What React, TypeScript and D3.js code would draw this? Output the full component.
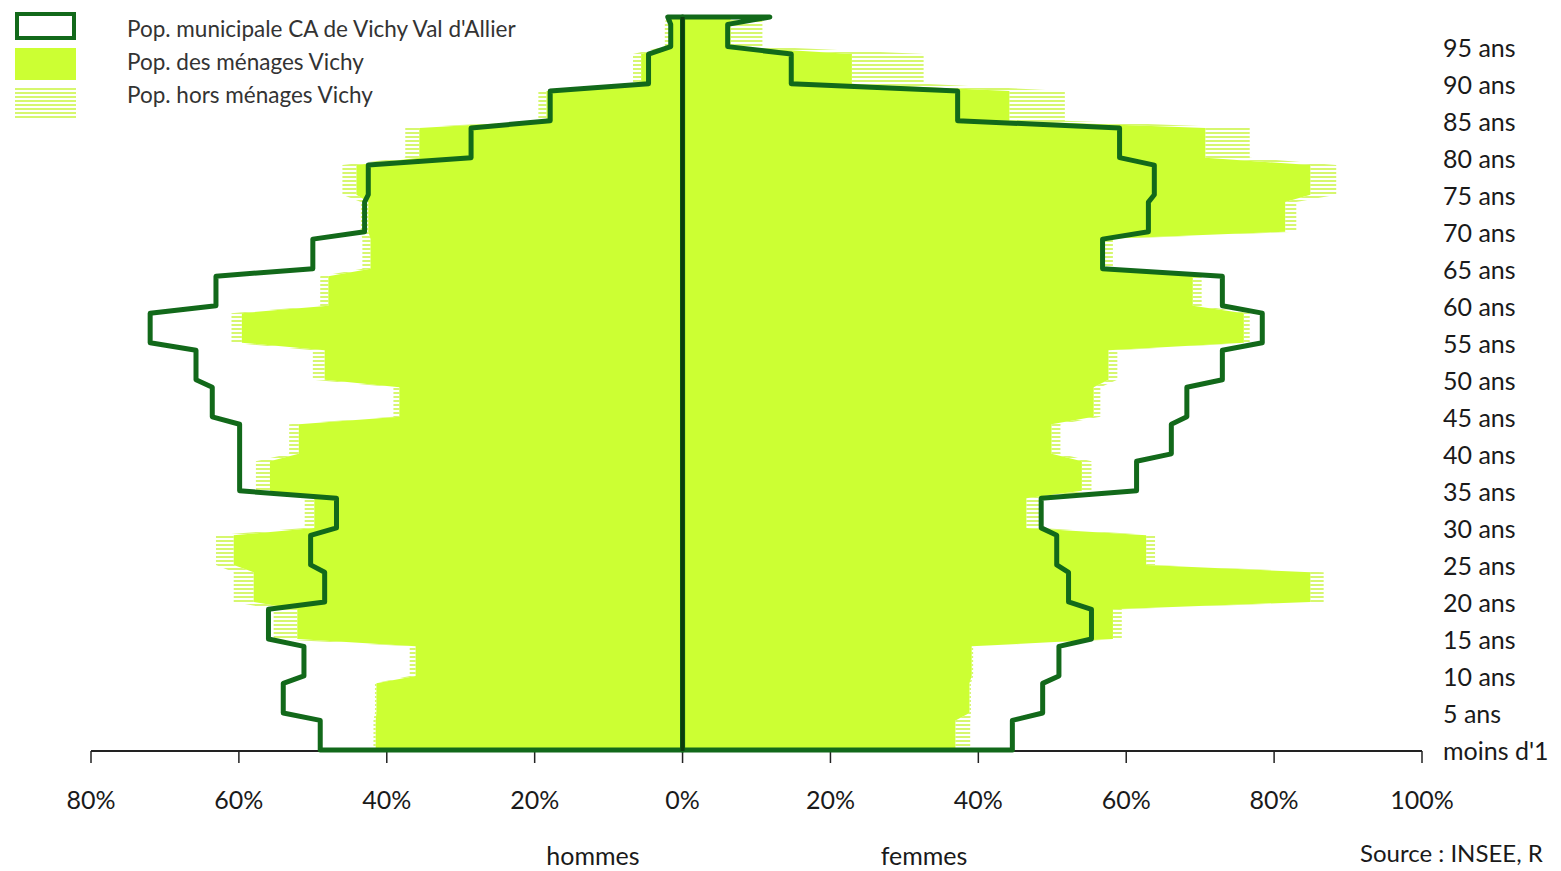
import React from 'react';
import * as d3 from 'd3';

// age groups (start / end age of each step)
const ageStart = [0, 5, 10, 15, 20, 25, 30, 35, 40, 45, 50, 55, 60, 65, 70, 75, 80, 85, 90, 95, 99];
const ageEnd = [4, 9, 14, 19, 24, 29, 34, 39, 44, 49, 54, 59, 64, 69, 74, 79, 84, 89, 94, 98, 99];

// Pop. municipale CA de Vichy Val d'Allier (outline)
const caHommes = [49.0, 54.0, 51.2, 56.0, 48.4, 50.3, 46.8, 59.9, 59.9, 63.6, 65.8, 72.0, 63.1, 50.0, 43.0, 42.5, 28.6, 17.9, 4.6, 1.6, 2.0];
const caFemmes = [44.6, 48.7, 50.9, 55.3, 52.2, 50.6, 48.5, 61.4, 66.1, 68.2, 73.0, 78.4, 73.0, 56.8, 63.0, 63.8, 59.1, 37.2, 14.7, 6.1, 11.8];

// Pop. des ménages Vichy
const menagesHommes = [41.5, 41.4, 36.1, 52.1, 58.0, 60.7, 49.8, 55.8, 51.9, 38.3, 48.4, 59.6, 47.9, 42.2, 42.5, 44.1, 35.6, 18.4, 5.6, 1.6, 1.6];
const menagesFemmes = [36.9, 38.8, 39.1, 58.2, 84.9, 62.7, 46.5, 54.0, 49.9, 55.6, 57.6, 75.9, 69.0, 56.8, 81.5, 84.9, 70.7, 44.2, 22.9, 6.5, 6.5];

// Pop. hors ménages Vichy
const horsHommes = [0.3, 0.2, 0.8, 3.2, 2.7, 2.4, 1.3, 1.9, 1.3, 0.8, 1.6, 1.4, 1.1, 1.1, 1.0, 1.9, 1.9, 1.1, 1.1, 0.8, 0.6];
const horsFemmes = [2.0, 0.2, 0.2, 1.2, 1.8, 1.2, 2.0, 1.3, 1.2, 0.9, 1.2, 0.8, 1.2, 1.4, 1.5, 3.5, 6.0, 7.5, 9.7, 4.3, 4.3];

const xTicks = [-80, -60, -40, -20, 0, 20, 40, 60, 80, 100];
const ageLabels = ['moins d\'1', '5 ans', '10 ans', '15 ans', '20 ans', '25 ans', '30 ans', '35 ans', '40 ans', '45 ans',
  '50 ans', '55 ans', '60 ans', '65 ans', '70 ans', '75 ans', '80 ans', '85 ans', '90 ans', '95 ans'];
const ageLabelAt = [0, 5, 10, 15, 20, 25, 30, 35, 40, 45, 50, 55, 60, 65, 70, 75, 80, 85, 90, 95];

const legendItems = [
  'Pop. municipale CA de Vichy Val d\'Allier',
  'Pop. des ménages Vichy',
  'Pop. hors ménages Vichy'
];

const LIME = '#ccff33';
const HATCH = '#d6f76e';
const DARK = '#12691a';
const FONT = 'Lato, "Open Sans", sans-serif';
const INK = '#1a1a1a';

type Pt = { age: number; v0: number; v1: number };

// step points: value held from start age to end age of each group
const stepPoints = (inner: number[], outer: number[], sign: number): Pt[] => {
  const pts: Pt[] = [];
  ageStart.forEach((a, i) => {
    pts.push({ age: a, v0: sign * inner[i], v1: sign * outer[i] });
    if (ageEnd[i] !== a) pts.push({ age: ageEnd[i], v0: sign * inner[i], v1: sign * outer[i] });
  });
  return pts;
};

export default function App() {
  const width = 1561;
  const height = 871;

  const x = d3.scaleLinear().domain([-80, 100]).range([91, 1422]);
  const y = d3.scaleLinear().domain([0, 99]).range([750, 17]);

  const zeros = ageStart.map(() => 0);
  const totH = menagesHommes.map((v, i) => v + horsHommes[i]);
  const totF = menagesFemmes.map((v, i) => v + horsFemmes[i]);

  const area = d3.area<Pt>()
    .y(d => y(d.age))
    .x0(d => x(d.v0))
    .x1(d => x(d.v1));

  const outline = (vals: number[], sign: number) => {
    const pts = stepPoints(zeros, vals, sign);
    const full = [{ age: 0, v0: 0, v1: 0 }, ...pts, { age: 99, v0: 0, v1: 0 }];
    return d3.line<Pt>().x(d => x(d.v1)).y(d => y(d.age))(full) + 'Z';
  };

  return (
    <svg width={width} height={height} style={{ position: 'absolute', left: 0, top: 0, background: '#fff' }}>
      <defs>
        <pattern id="hatch" width="8" height="4" patternUnits="userSpaceOnUse">
          <rect width="8" height="4" fill="#fff" />
          <rect width="8" height="2" fill={HATCH} />
        </pattern>
      </defs>

      {/* hors ménages (hatched) */}
      <path d={area(stepPoints(menagesHommes, totH, -1)) || ''} fill="url(#hatch)" />
      <path d={area(stepPoints(menagesFemmes, totF, 1)) || ''} fill="url(#hatch)" />

      {/* ménages */}
      <path d={area(stepPoints(zeros, menagesHommes, -1)) || ''} fill={LIME} />
      <path d={area(stepPoints(zeros, menagesFemmes, 1)) || ''} fill={LIME} />

      {/* axis */}
      <line x1={x(-80)} x2={x(100)} y1={751} y2={751} stroke="#222" strokeWidth={2} />
      {xTicks.map(t => (
        <g key={t}>
          <line x1={x(t)} x2={x(t)} y1={751} y2={763} stroke="#222" strokeWidth={1.5} />
          <text x={x(t)} y={809} textAnchor="middle" fontFamily={FONT} fontSize={25} fill={INK}>
            {Math.abs(t)}%
          </text>
        </g>
      ))}

      {/* CA outline */}
      <path d={outline(caHommes, -1)} fill="none" stroke={DARK} strokeWidth={5} strokeLinejoin="round" />
      <path d={outline(caFemmes, 1)} fill="none" stroke={DARK} strokeWidth={5} strokeLinejoin="round" />
      <line x1={x(0)} x2={x(0)} y1={y(99)} y2={751} stroke="#0b3d0e" strokeWidth={4} />

      {/* age labels */}
      {ageLabelAt.map((a, i) => (
        <text key={a} x={1443} y={y(a) + 4} dominantBaseline="middle" fontFamily={FONT} fontSize={25} fill={INK}>
          {ageLabels[i]}
        </text>
      ))}

      <text x={593} y={865} textAnchor="middle" fontFamily={FONT} fontSize={25} fill={INK}>hommes</text>
      <text x={924} y={865} textAnchor="middle" fontFamily={FONT} fontSize={25} fill={INK}>femmes</text>
      <text x={1360} y={862} fontFamily={FONT} fontSize={24} fill={INK}>Source : INSEE, R</text>

      {/* legend */}
      <rect x={17} y={14} width={57} height={24} fill="#fff" stroke={DARK} strokeWidth={4} />
      <rect x={15} y={48} width={61} height={32} fill={LIME} />
      <rect x={15} y={88} width={61} height={30} fill="url(#hatch)" />
      {legendItems.map((t, i) => (
        <text key={t} x={127} y={31 + i * 33} dominantBaseline="middle" fontFamily={FONT} fontSize={22.5} fill="#333">
          {t}
        </text>
      ))}
    </svg>
  );
}
